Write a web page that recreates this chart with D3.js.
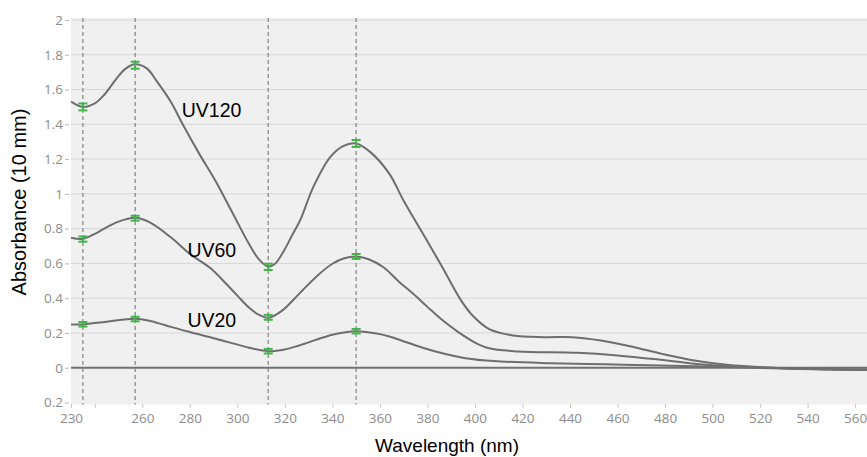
<!DOCTYPE html>
<html>
<head>
<meta charset="utf-8">
<script src="https://cdn.jsdelivr.net/npm/d3@7"></script>
<style>
  html, body { margin: 0; padding: 0; background: #fff; }
  svg { display: block; }
</style>
</head>
<body>
<div class="chart"></div>
<script>
// spectra (wavelength nm, absorbance)
const uv120Wl  = [230, 235, 240, 244, 249, 253, 257, 262, 266, 272, 277, 284, 291, 298, 305, 309, 313, 316, 319.5, 323, 326.5, 332, 339, 344.5, 350, 356, 364, 370, 379, 386, 394, 399, 406, 416, 429, 441, 453, 467, 478, 493, 507, 521, 535, 550, 565];
const uv120Abs = [1.53, 1.50, 1.52, 1.57, 1.66, 1.72, 1.745, 1.72, 1.65, 1.53, 1.40, 1.23, 1.07, 0.89, 0.71, 0.625, 0.582, 0.60, 0.67, 0.76, 0.85, 1.04, 1.21, 1.275, 1.29, 1.24, 1.115, 0.96, 0.75, 0.585, 0.39, 0.30, 0.222, 0.186, 0.176, 0.176, 0.157, 0.118, 0.082, 0.04, 0.015, 0.003, -0.006, -0.01, -0.012];

const uv60Wl  = [230, 235, 240, 244, 250, 257, 263, 272, 280, 288.5, 295.5, 300, 305, 309, 313, 319, 326, 333, 340, 345, 350, 355, 361.5, 368, 374, 380, 386, 393, 400, 406, 418, 443, 460, 478, 493, 507, 525, 545, 565];
const uv60Abs = [0.747, 0.741, 0.77, 0.80, 0.84, 0.862, 0.837, 0.75, 0.655, 0.575, 0.48, 0.415, 0.345, 0.305, 0.287, 0.33, 0.425, 0.521, 0.598, 0.63, 0.64, 0.625, 0.578, 0.495, 0.425, 0.35, 0.277, 0.205, 0.145, 0.112, 0.094, 0.086, 0.071, 0.046, 0.022, 0.008, 0.0, -0.008, -0.012];

const uv20Wl  = [230, 235, 245, 257, 263, 270, 280, 291, 305, 313, 320, 326, 333, 340, 350, 358, 364, 369, 378, 388, 396, 408, 432, 455, 478, 507, 530, 565];
const uv20Abs = [0.249, 0.249, 0.265, 0.282, 0.27, 0.243, 0.205, 0.167, 0.115, 0.095, 0.105, 0.128, 0.16, 0.19, 0.21, 0.198, 0.18, 0.157, 0.115, 0.077, 0.055, 0.038, 0.026, 0.02, 0.013, 0.004, -0.005, -0.012];

// marked wavelengths (dashed guides) and the values / error bars on them
const markWl = [235, 257, 313, 350];
const uv120Marks = [1.50, 1.74, 0.58, 1.29];
const uv60Marks  = [0.74, 0.86, 0.29, 0.64];
const uv20Marks  = [0.25, 0.28, 0.095, 0.21];
const uv120Err = [0.02, 0.02, 0.018, 0.02];
const uv60Err  = [0.015, 0.014, 0.014, 0.014];
const uv20Err  = [0.013, 0.013, 0.013, 0.013];

const seriesNames = ["UV120", "UV60", "UV20"];

const xTicks = [230, 240, 260, 280, 300, 320, 340, 360, 380, 400, 420, 440, 460, 480, 500, 520, 540, 560];
const xTickLabels = ["230", "", "260", "280", "300", "320", "340", "360", "380", "400", "420", "440", "460", "480", "500", "520", "540", "560"];
const yTicks = [-0.2, 0, 0.2, 0.4, 0.6, 0.8, 1, 1.2, 1.4, 1.6, 1.8, 2];
const yTickLabels = ["0.2", "0", "0.2", "0.4", "0.6", "0.8", "1", "1.2", "1.4", "1.6", "1.8", "2"];

const W = 867, H = 457;
const plot = {left: 71, right: 867, top: 20, bottom: 402.5};

const svg = d3.select(".chart").append("svg")
    .attr("width", W)
    .attr("height", H);

const x = d3.scaleLinear().domain([230, 565]).range([plot.left, plot.right]);
const y = d3.scaleLinear().domain([-0.2, 2]).range([plot.bottom, plot.top]);

// plot background
svg.append("rect")
    .attr("x", plot.left).attr("y", plot.top - 2)
    .attr("width", plot.right - plot.left)
    .attr("height", plot.bottom - plot.top + 4)
    .attr("fill", "#f0f0f0");

// horizontal grid
svg.append("g").selectAll("line")
    .data(yTicks.filter(d => d !== 0 && d !== -0.2))
    .enter().append("line")
      .attr("x1", plot.left).attr("x2", plot.right)
      .attr("y1", d => y(d)).attr("y2", d => y(d))
      .attr("stroke", "#d7d7d7")
      .attr("stroke-width", 1);

// y axis (labels + little dashes)
const yAxis = svg.append("g")
    .attr("transform", "translate(" + plot.left + ",0)")
    .call(d3.axisLeft(y)
      .tickValues(yTicks)
      .tickSize(4)
      .tickPadding(4)
      .tickFormat((d, i) => yTickLabels[i]));
yAxis.select(".domain").remove();
yAxis.selectAll(".tick line").attr("stroke", "#b5b5b5").attr("transform", "translate(-2,0)");
yAxis.selectAll(".tick text")
    .attr("fill", "#8c8c8c")
    .style("font-family", "'Open Sans', sans-serif")
    .style("font-size", "13.5px");

// x axis
const xAxis = svg.append("g")
    .attr("transform", "translate(0," + (plot.bottom + 1.5) + ")")
    .call(d3.axisBottom(x)
      .tickValues(xTicks)
      .tickSize(4)
      .tickPadding(5)
      .tickFormat((d, i) => xTickLabels[i]));
xAxis.select(".domain").remove();
xAxis.selectAll(".tick line").attr("stroke", "#c8c8c8");
xAxis.selectAll(".tick text")
    .attr("fill", "#8c8c8c")
    .style("font-family", "'Open Sans', sans-serif")
    .style("font-size", "13.5px");

// zero line
svg.append("line")
    .attr("x1", plot.left).attr("x2", plot.right)
    .attr("y1", y(0)).attr("y2", y(0))
    .attr("stroke", "#707070")
    .attr("stroke-width", 2.2);

// dashed guides
svg.append("g").selectAll("line")
    .data(markWl)
    .enter().append("line")
      .attr("x1", d => x(d)).attr("x2", d => x(d))
      .attr("y1", plot.top - 2).attr("y2", plot.bottom + 2)
      .attr("stroke", "#8a8a8a")
      .attr("stroke-width", 1.3)
      .attr("stroke-dasharray", "4,3");

// curves
const line = d3.line()
    .x(d => x(d[0]))
    .y(d => y(d[1]))
    .curve(d3.curveCatmullRom.alpha(0.5));

const curves = [
  d3.zip(uv120Wl, uv120Abs),
  d3.zip(uv60Wl, uv60Abs),
  d3.zip(uv20Wl, uv20Abs)
];

svg.append("g").selectAll("path")
    .data(curves)
    .enter().append("path")
      .attr("d", line)
      .attr("fill", "none")
      .attr("stroke", "#6e6e6e")
      .attr("stroke-width", 2);

// error bar markers
const marks = [];
[[uv120Marks, uv120Err], [uv60Marks, uv60Err], [uv20Marks, uv20Err]].forEach(s => {
  markWl.forEach((w, i) => marks.push({w: w, v: s[0][i], e: s[1][i]}));
});

const mk = svg.append("g").selectAll("g")
    .data(marks)
    .enter().append("g")
      .attr("stroke", "#41b54a")
      .attr("stroke-width", 2);
mk.append("line")
    .attr("x1", d => x(d.w)).attr("x2", d => x(d.w))
    .attr("y1", d => y(d.v + d.e)).attr("y2", d => y(d.v - d.e));
mk.append("line")
    .attr("x1", d => x(d.w) - 4.5).attr("x2", d => x(d.w) + 4.5)
    .attr("y1", d => y(d.v + d.e)).attr("y2", d => y(d.v + d.e));
mk.append("line")
    .attr("x1", d => x(d.w) - 4.5).attr("x2", d => x(d.w) + 4.5)
    .attr("y1", d => y(d.v - d.e)).attr("y2", d => y(d.v - d.e));

// series labels (wavelength, absorbance of the text baseline start)
const labelPos = [[276.6, 1.44], [279, 0.636], [279, 0.233]];
svg.append("g").selectAll("text")
    .data(seriesNames)
    .enter().append("text")
      .attr("x", (d, i) => x(labelPos[i][0]))
      .attr("y", (d, i) => y(labelPos[i][1]))
      .attr("fill", "#000")
      .style("font-family", "'Liberation Sans', Arial, sans-serif")
      .style("font-size", "19.5px")
      .text(d => d);

// axis titles
svg.append("text")
    .attr("transform", "translate(26," + 202 + ") rotate(-90)")
    .attr("text-anchor", "middle")
    .style("font-family", "'Liberation Sans', Arial, sans-serif")
    .style("font-size", "20px")
    .text("Absorbance (10 mm)");

svg.append("text")
    .attr("x", 447)
    .attr("y", 452)
    .attr("text-anchor", "middle")
    .style("font-family", "'Liberation Sans', Arial, sans-serif")
    .style("font-size", "19px")
    .text("Wavelength (nm)");
</script>
</body>
</html>
